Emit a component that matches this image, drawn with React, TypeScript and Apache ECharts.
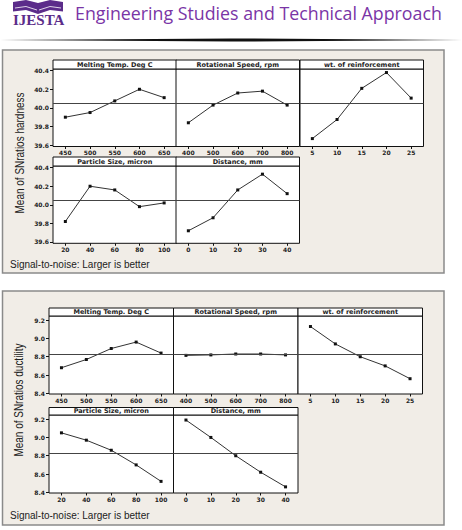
import React, { useEffect, useRef } from "react";
import * as echarts from "echarts";

// ---- Data ----
const meltingTemps = ["450", "500", "550", "600", "650"];
const rotSpeeds = ["400", "500", "600", "700", "800"];
const wtReinforcement = ["5", "10", "15", "20", "25"];
const particleSizes = ["20", "40", "60", "80", "100"];
const distances = ["0", "10", "20", "30", "40"];

const panelTitles = [
  "Melting Temp. Deg C",
  "Rotational Speed, rpm",
  "wt. of reinforcement",
  "Particle Size, micron",
  "Distance, mm",
];

const hardnessMelting = [39.9, 39.95, 40.075, 40.2, 40.11];
const hardnessSpeed = [39.84, 40.03, 40.16, 40.18, 40.03];
const hardnessWt = [39.67, 39.875, 40.21, 40.38, 40.105];
const hardnessParticle = [39.82, 40.2, 40.16, 39.98, 40.02];
const hardnessDistance = [39.72, 39.86, 40.16, 40.33, 40.12];

const ductilityMelting = [8.68, 8.77, 8.89, 8.96, 8.84];
const ductilitySpeed = [8.815, 8.82, 8.83, 8.83, 8.82];
const ductilityWt = [9.13, 8.94, 8.8, 8.7, 8.56];
const ductilityParticle = [9.05, 8.97, 8.86, 8.7, 8.52];
const ductilityDistance = [9.19, 9.0, 8.8, 8.62, 8.46];

const hardnessTicks = [39.6, 39.8, 40.0, 40.2, 40.4];
const ductilityTicks = [8.4, 8.6, 8.8, 9.0, 9.2];
const hardnessMean = 40.05;
const ductilityMean = 8.826;
const hardnessRange = [39.585, 40.418];
const ductilityRange = [8.393, 9.245];

const hardnessTitle = "Mean of SNratios hardness";
const ductilityTitle = "Mean of SNratios ductility";
const footnote = "Signal-to-noise: Larger is better";

const catsList = [meltingTemps, rotSpeeds, wtReinforcement, particleSizes, distances];
const hardnessValues = [hardnessMelting, hardnessSpeed, hardnessWt, hardnessParticle, hardnessDistance];
const ductilityValues = [ductilityMelting, ductilitySpeed, ductilityWt, ductilityParticle, ductilityDistance];

// ---- Layout ----
const PURPLE = "#7a35a6";
const BOX_BG = "#f1ede7";
const TICK_FONT = "DejaVu Sans";

type FigLayout = {
  rows: { top: number; height: number; strip: number }[];
  cols: number[];
  width: number;
  ticks: number[];
  range: number[];
  mean: number;
  values: number[][];
};

const fig1: FigLayout = {
  rows: [
    { top: 69, height: 77.5, strip: 9 },
    { top: 166, height: 77.3, strip: 9 },
  ],
  cols: [53, 176, 300],
  width: 123.5,
  ticks: hardnessTicks,
  range: hardnessRange,
  mean: hardnessMean,
  values: hardnessValues,
};

const fig2: FigLayout = {
  rows: [
    { top: 316, height: 78, strip: 8 },
    { top: 415, height: 78, strip: 7.5 },
  ],
  cols: [49, 173.5, 298],
  width: 124.5,
  ticks: ductilityTicks,
  range: ductilityRange,
  mean: ductilityMean,
  values: ductilityValues,
};

const panelPos = [
  [0, 0],
  [0, 1],
  [0, 2],
  [1, 0],
  [1, 1],
];

function buildOption() {
  const grid: any[] = [];
  const xAxis: any[] = [];
  const yAxis: any[] = [];
  const series: any[] = [];
  const graphic: any[] = [];

  // page header
  graphic.push(
    { type: "polygon", shape: { points: [[13, 2], [13, 11.5], [26, 10], [38, 14], [38, 3], [26, 0]] }, style: { fill: "#5b2c8a" } },
    { type: "polygon", shape: { points: [[63, 2], [63, 11.5], [50, 10], [38, 14], [38, 3], [50, 0]] }, style: { fill: "#5b2c8a" } },
    { type: "polyline", shape: { points: [[15, 8], [26, 6.5], [37, 10]] }, style: { stroke: "#fff", lineWidth: 0.8, fill: null } },
    { type: "polyline", shape: { points: [[61, 8], [50, 6.5], [39, 10]] }, style: { stroke: "#fff", lineWidth: 0.8, fill: null } },
    { type: "text", x: 13, y: 20, style: { text: "IJESTA", font: "bold 15px 'Liberation Serif'", fill: "#5b2c8a", verticalAlign: "middle", align: "left" } },
    { type: "text", x: 75, y: 13, style: { text: "Engineering Studies and Technical Approach", font: "17.8px 'Open Sans'", fill: PURPLE, verticalAlign: "middle", align: "left" } },
    { type: "polygon", shape: { points: [[0, 40], [231, 38.4], [462, 40], [231, 41.6]] }, style: { fill: "#111" } }
  );

  // figure boxes
  const boxes = [
    { y: 50, h: 223 },
    { y: 291, h: 234 },
  ];
  boxes.forEach((b) => {
    graphic.push({ type: "rect", z: -10, shape: { x: 2.5, y: b.y, width: 441.5, height: b.h }, style: { fill: BOX_BG, stroke: "#8a8a8a", lineWidth: 1.5 } });
  });

  const figs = [
    { f: fig1, title: hardnessTitle, titleX: 19, titleY: 153, note: 264 },
    { f: fig2, title: ductilityTitle, titleX: 18, titleY: 400, note: 515 },
  ];

  let idx = 0;
  figs.forEach(({ f, title, titleX, titleY, note }) => {
    panelPos.forEach(([r, c], p) => {
      const row = f.rows[r];
      const left = f.cols[c];
      grid.push({
        left,
        top: row.top,
        width: f.width,
        height: row.height,
        show: true,
        backgroundColor: "#fff",
        borderColor: "#111",
        borderWidth: 1,
        outerBoundsMode: "none",
      });
      xAxis.push({
        type: "category",
        gridIndex: idx,
        data: catsList[p],
        boundaryGap: true,
        axisLine: { show: false },
        axisTick: { show: true, alignWithLabel: true, length: 2.5, lineStyle: { color: "#111", width: 1 } },
        axisLabel: { fontSize: 6, fontFamily: TICK_FONT, fontWeight: "bold", color: "#222", margin: 3 },
        splitLine: { show: false },
      });
      const showY = c === 0;
      yAxis.push({
        type: "value",
        gridIndex: idx,
        min: f.range[0],
        max: f.range[1],
        axisLine: { show: false },
        splitLine: { show: false },
        axisTick: { show: showY, customValues: f.ticks, length: 3, lineStyle: { color: "#111", width: 1 } },
        axisLabel: {
          show: showY,
          customValues: f.ticks,
          formatter: (v: number) => v.toFixed(1),
          fontSize: 6,
          fontFamily: TICK_FONT,
          fontWeight: "bold",
          color: "#222",
          margin: 4,
        },
      });
      series.push({
        type: "line",
        xAxisIndex: idx,
        yAxisIndex: idx,
        data: f.values[p],
        symbol: "rect",
        symbolSize: 3,
        itemStyle: { color: "#111" },
        lineStyle: { color: "#333", width: 1 },
        z: 3,
        markLine: {
          silent: true,
          symbol: "none",
          label: { show: false },
          lineStyle: { color: "#444", width: 1, type: "solid" },
          data: [{ yAxis: f.mean }],
        },
      });
      // strip header
      graphic.push(
        { type: "rect", z: 5, shape: { x: left, y: row.top - row.strip, width: f.width, height: row.strip }, style: { fill: "#fff", stroke: "#111", lineWidth: 1 } },
        {
          type: "text",
          z: 6,
          x: left + f.width / 2,
          y: row.top - row.strip / 2,
          style: { text: panelTitles[p], font: `bold 6.5px '${TICK_FONT}'`, fill: "#222", align: "center", verticalAlign: "middle" },
        }
      );
      idx++;
    });
    graphic.push(
      {
        type: "text",
        x: titleX,
        y: titleY,
        rotation: Math.PI / 2,
        scaleX: 0.74,
        style: { text: title, font: "13.5px 'Liberation Sans'", fill: "#222", align: "center", verticalAlign: "middle" },
      },
      { type: "text", x: 10, y: note, style: { text: footnote, font: "10px 'Liberation Sans'", fill: "#222", align: "left", verticalAlign: "middle" } }
    );
  });

  return {
    animation: false,
    backgroundColor: "#fff",
    grid,
    xAxis,
    yAxis,
    series,
    graphic: { elements: graphic },
  };
}

export default function App() {
  const ref = useRef<HTMLDivElement>(null);
  useEffect(() => {
    document.body.style.margin = "0";
    const chart = echarts.init(ref.current!, null, { renderer: "svg" });
    chart.setOption(buildOption() as any);
    return () => chart.dispose();
  }, []);
  return <div ref={ref} style={{ width: 462, height: 530 }} />;
}
